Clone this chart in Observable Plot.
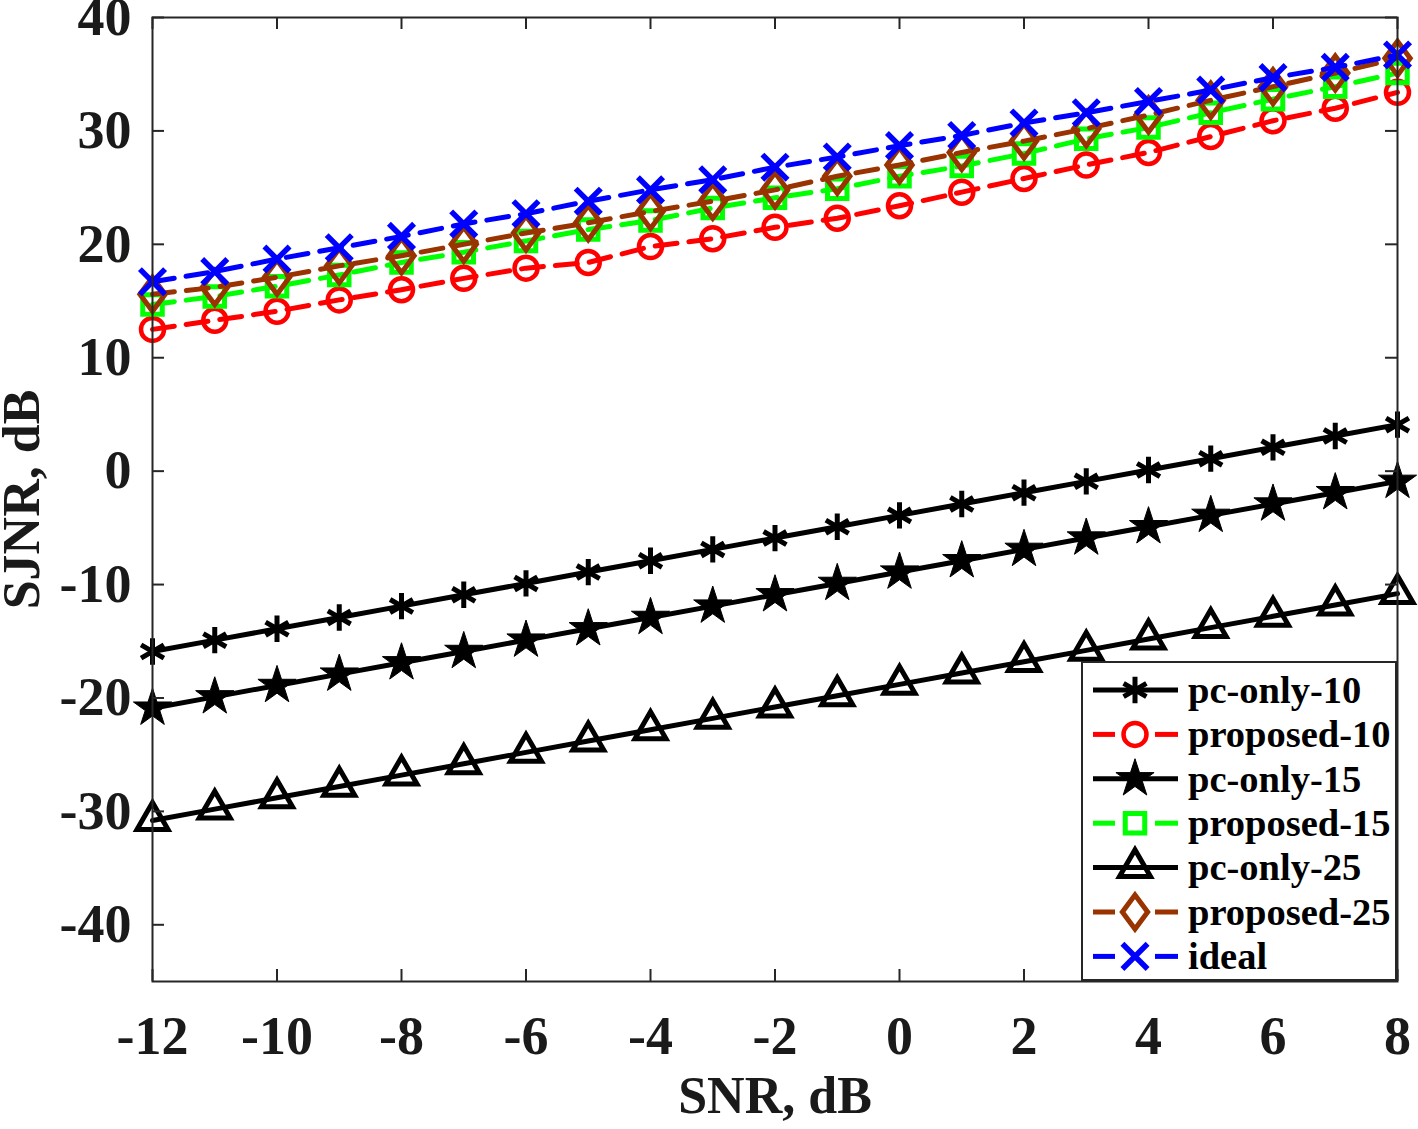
<!DOCTYPE html>
<html>
<head>
<meta charset="utf-8">
<script src="https://cdn.jsdelivr.net/npm/d3@7"></script>
<script src="https://cdn.jsdelivr.net/npm/@observablehq/plot@0.6"></script>
<style>
  body { margin: 0; background: #fff; }
  #wrap { position: relative; width: 1418px; height: 1129px; }
  #legend { position: absolute; left: 1081px; top: 661px; }
</style>
</head>
<body>
<div id="wrap"></div>
<script>
// ---- data ----
const snr = [-12,-11,-10,-9,-8,-7,-6,-5,-4,-3,-2,-1,0,1,2,3,4,5,6,7,8];
const pcOnly10   = [-15.9,-14.9,-13.9,-12.9,-11.9,-10.9,-9.9,-8.9,-7.9,-6.9,-5.9,-4.9,-3.9,-2.9,-1.9,-0.9,0.1,1.1,2.1,3.1,4.1];
const proposed10 = [12.5,13.3,14.1,15.1,16.0,17.0,17.9,18.4,19.8,20.5,21.5,22.3,23.4,24.6,25.8,27.0,28.1,29.5,30.9,32.0,33.4];
const pcOnly15   = [-20.9,-19.9,-18.9,-17.9,-16.9,-15.9,-14.9,-13.9,-12.9,-11.9,-10.9,-9.9,-8.9,-7.9,-6.9,-5.9,-4.9,-3.9,-2.9,-1.9,-0.9];
const proposed15 = [14.7,15.4,16.3,17.3,18.4,19.3,20.3,21.3,22.1,23.2,24.1,24.9,26.0,26.9,28.0,29.3,30.3,31.6,32.8,33.9,35.1];
const pcOnly25   = [-30.8,-29.8,-28.8,-27.8,-26.8,-25.8,-24.8,-23.8,-22.8,-21.8,-20.8,-19.8,-18.8,-17.8,-16.8,-15.8,-14.8,-13.8,-12.8,-11.8,-10.8];
const proposed25 = [15.6,16.2,17.1,18.1,19.0,20.0,21.0,21.9,22.9,23.8,24.8,26.0,27.0,28.1,29.1,30.2,31.4,32.7,33.9,35.1,36.4];
const ideal      = [16.7,17.6,18.7,19.7,20.7,21.8,22.7,23.8,24.8,25.7,26.8,27.7,28.7,29.6,30.7,31.6,32.6,33.6,34.7,35.6,36.7];
const seriesNames = ["pc-only-10","proposed-10","pc-only-15","proposed-15","pc-only-25","proposed-25","ideal"];
const seriesValues = [pcOnly10, proposed10, pcOnly15, proposed15, pcOnly25, proposed25, ideal];
const xTicks = [-12,-10,-8,-6,-4,-2,0,2,4,6,8];
const yTicks = [-40,-30,-20,-10,0,10,20,30,40];

// ---- styles ----
// MATLAB-like diamond: a rhombus slightly taller than wide
const wideDiamond = {
  draw(context, size) {
    const R = Math.sqrt(size / Math.PI);
    const h = 1.55 * R, w = 1.15 * R;
    context.moveTo(0, -h); context.lineTo(w, 0); context.lineTo(0, h); context.lineTo(-w, 0); context.closePath();
  }
};
const symMap = {asterisk: d3.symbolAsterisk, circle: d3.symbolCircle, star: d3.symbolStar,
  square: d3.symbolSquare, triangle: d3.symbolTriangle, diamond: wideDiamond, times: d3.symbolTimes};
const styles = [
  {color: "#000000", dashed: false, symbol: "asterisk", r: 12.5, fill: "none", sw: 5},
  {color: "#ff0000", dashed: true,  symbol: "circle",   r: 11.5, fill: "none", sw: 4.5},
  {color: "#000000", dashed: false, symbol: "star",     r: 12, fill: "#000000", sw: 1},
  {color: "#00ff00", dashed: true,  symbol: "square",   r: 11, fill: "none", sw: 5},
  {color: "#000000", dashed: false, symbol: "triangle", r: 11.5, fill: "none", sw: 5},
  {color: "#993300", dashed: true,  symbol: "diamond",  r: 11, fill: "none", sw: 5},
  {color: "#0000ff", dashed: true,  symbol: "times",    r: 11.5, fill: "none", sw: 5.5}
];
const dash = "22,12";
const font = "'Liberation Serif', 'Times New Roman', serif";
const W = 1418, H = 1129, mL = 152, mR = 21, mT = 17, mB = 148;
const plotW = W - mL - mR, plotH = H - mT - mB;

const marks = [];
seriesNames.forEach((name, k) => {
  const st = styles[k];
  const d = snr.map((x, i) => ({x, y: seriesValues[k][i], name}));
  marks.push(Plot.line(d, {x: "x", y: "y", stroke: st.color, strokeWidth: 5,
    strokeDasharray: st.dashed ? dash : null}));
  marks.push(Plot.dot(d, {x: "x", y: "y", symbol: symMap[st.symbol], r: st.r,
    stroke: st.color, fill: st.fill, strokeWidth: st.sw}));
});

const chart = Plot.plot({
  width: W, height: H,
  marginLeft: mL, marginRight: mR, marginTop: mT, marginBottom: mB,
  style: {fontFamily: font, fontWeight: "bold", background: "white", color: "#1a1a1a"},
  x: {domain: [-12, 8]},
  y: {domain: [-45, 40]},
  marks: [
    ...marks,
    Plot.frame({stroke: "#262626", strokeWidth: 2}),
    Plot.tickX(xTicks, {x: d => d, stroke: "#262626", strokeWidth: 2, insetTop: plotH - 12}),
    Plot.tickX(xTicks, {x: d => d, stroke: "#262626", strokeWidth: 2, insetBottom: plotH - 12}),
    Plot.tickY(yTicks, {y: d => d, stroke: "#262626", strokeWidth: 2, insetRight: plotW - 12}),
    Plot.tickY(yTicks, {y: d => d, stroke: "#262626", strokeWidth: 2, insetLeft: plotW - 12}),
    Plot.axisX({anchor: "bottom", ticks: xTicks, tickSize: 0, tickPadding: 34,
      tickFormat: d => `${d}`, fontSize: 54, fontWeight: "bold",
      label: null}),
    Plot.axisX({anchor: "bottom", ticks: [], tickSize: 0,
      fontSize: 52, fontWeight: "bold",
      label: "SNR, dB", labelAnchor: "center", labelOffset: 131, labelArrow: "none"}),
    Plot.axisY({anchor: "left", ticks: yTicks, tickSize: 0, tickPadding: 21,
      tickFormat: d => `${d}`, fontSize: 54, fontWeight: "bold",
      label: null}),
    Plot.axisY({anchor: "left", ticks: [], tickSize: 0,
      fontSize: 52, fontWeight: "bold",
      label: "SJNR, dB", labelAnchor: "center", labelOffset: 150, labelArrow: "none"})
  ]
});
document.getElementById("wrap").appendChild(chart);

// ---- legend ----
const lw = 317, lh = 321;
const leg = d3.select("#wrap").append("svg").attr("id", "legend")
  .attr("width", lw).attr("height", lh);
leg.append("rect").attr("x", 1).attr("y", 1).attr("width", lw - 3).attr("height", lh - 3)
  .attr("fill", "white").attr("stroke", "#262626").attr("stroke-width", 2);
seriesNames.forEach((name, k) => {
  const st = styles[k];
  const cy = 29 + k * 44.4;
  const g = leg.append("g");
  if (st.dashed) {
    g.append("line").attr("x1", 12).attr("x2", 34).attr("y1", cy).attr("y2", cy)
      .attr("stroke", st.color).attr("stroke-width", 5);
    g.append("line").attr("x1", 74).attr("x2", 97).attr("y1", cy).attr("y2", cy)
      .attr("stroke", st.color).attr("stroke-width", 5);
  } else {
    g.append("line").attr("x1", 12).attr("x2", 97).attr("y1", cy).attr("y2", cy)
      .attr("stroke", st.color).attr("stroke-width", 5);
  }
  g.append("path").attr("d", d3.symbol(symMap[st.symbol], Math.PI * st.r * st.r)())
    .attr("transform", `translate(54,${cy})`)
    .attr("fill", st.fill).attr("stroke", st.color).attr("stroke-width", st.sw);
  g.append("text").attr("x", 107).attr("y", cy).attr("dy", "0.33em")
    .attr("font-family", font).attr("font-weight", "bold").attr("font-size", 38.5)
    .attr("fill", "#000").text(name);
});
</script>
</body>
</html>
